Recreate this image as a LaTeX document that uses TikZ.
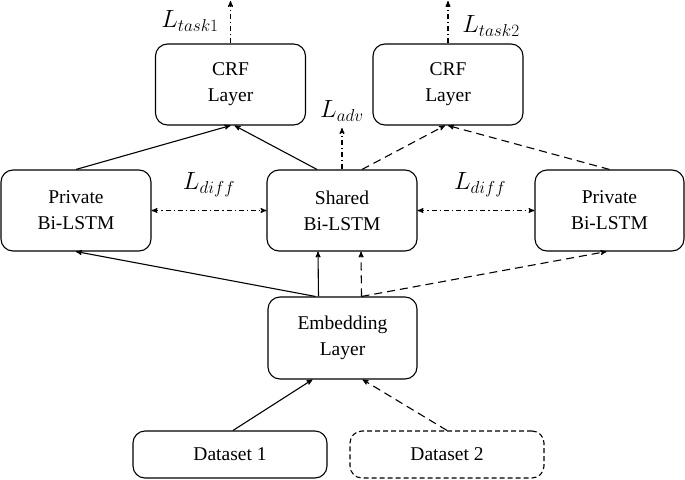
\documentclass[tikz,border=0pt]{standalone}
\usepackage{fontspec}
\setmainfont{Liberation Serif}
\usepackage{tikz}
\usetikzlibrary{arrows}

\begin{document}
\begin{tikzpicture}[>=stealth',x=1pt,y=-1pt,line width=1.1pt,
    layer/.style={draw,rounded corners=12pt,minimum width=150pt,minimum height=81pt,
      align=center,inner sep=0pt,font=\fontsize{19.5}{26}\selectfont},
    data/.style={layer,minimum width=194pt,minimum height=47pt},
    loss/.style={dash pattern=on 5pt off 3pt on 1.2pt off 3pt},
    lbl/.style={font=\fontsize{24}{28}\selectfont},
    dash2/.style={dash pattern=on 8pt off 5pt}]
  \useasboundingbox (0,0) rectangle (685,479);
  \node[layer] (crf1)  at (230.5,84.5) {CRF\\Layer};
  \node[layer] (crf2)  at (448,84.5)   {CRF\\Layer};
  \node[layer] (priv1) at (76,210.5)   {Private\\Bi-LSTM};
  \node[layer] (share) at (342,210.5)  {Shared\\Bi-LSTM};
  \node[layer,minimum width=149pt] (priv2) at (609.5,210.5) {Private\\Bi-LSTM};
  \node[layer,minimum width=149pt,minimum height=82pt] (emb) at (342.5,338) {Embedding\\Layer};
  \node[data] (ds1) at (230,454.5) {Dataset 1};
  \node[data,dash pattern=on 5pt off 3pt] (ds2) at (447,454.5) {Dataset 2};

  \coordinate (top1) at (230.5,1);
  \coordinate (top2) at (448,1);
  \coordinate (adv)  at (342,128);

  % losses
  \draw[->,loss] (crf1.north) -- (top1);
  \draw[->,loss] (crf2.north) -- (top2);
  \draw[->,loss] (share.north) -- (adv);
  \draw[<->,loss] (priv1.east) -- (share.west);
  \draw[<->,loss] (share.east) -- (priv2.east -| priv2.west);
  \node[lbl] (lt1) at (190,21) {$L_{task1}$};
  \node[lbl] (lt2) at (491,26) {$L_{task2}$};
  \node[lbl] (la)  at (342,111) {$L_{adv}$};
  \node[lbl] (ld1) at (209,185) {$L_{diff}$};
  \node[lbl] (ld2) at (480,185) {$L_{diff}$};

  % task 1
  \draw[->] (priv1.north) -- (crf1.south);
  \draw[->] ([xshift=-25pt]share.north) -- ([xshift=4pt]crf1.south);
  \draw[->] ([xshift=-27pt]emb.north) -- (priv1.south);
  \draw[->] ([xshift=-24pt]emb.north) -- ([xshift=-24pt]share.south);
  \draw[->] ([xshift=3pt]ds1.north) -- ([xshift=-30pt]emb.south);
  % task 2
  \draw[->,dash2] ([xshift=20pt]share.north) -- ([xshift=-3pt]crf2.south);
  \draw[->,dash2] (priv2.north) -- (crf2.south);
  \draw[->,dash2] ([xshift=19pt]emb.north) -- ([xshift=19pt]share.south);
  \draw[->,dash2] ([xshift=19pt]emb.north) -- ([xshift=-3pt]priv2.south);
  \draw[->,dash2] (ds2.north) -- ([xshift=20pt]emb.south);
\end{tikzpicture}
\end{document}
